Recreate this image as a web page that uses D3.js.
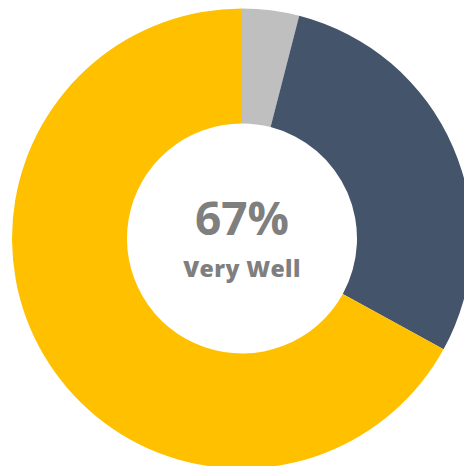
<!DOCTYPE html>
<html>
<head>
<meta charset="utf-8">
<script src="https://cdn.jsdelivr.net/npm/d3@7"></script>
<style>
  html, body { margin: 0; padding: 0; background: #fff; overflow: hidden; }
</style>
</head>
<body>
<svg id="chart" width="464" height="466"></svg>
<script>
// slices clockwise from 12 o'clock
var labels = ["Other", "Well", "Very Well"];
var values = [4, 29, 67];
var colors = ["#BFBFBF", "#44546A", "#FFC000"];

var svg = d3.select("#chart");
var cx = 242, cy = 238.5, outerR = 230, innerR = 115;

var g = svg.append("g").attr("transform", "translate(" + cx + "," + cy + ")");

var pie = d3.pie().sort(null).value(function(d) { return d; });
var arc = d3.arc().innerRadius(innerR).outerRadius(outerR);
var color = d3.scaleOrdinal().domain(labels).range(colors);

g.selectAll(".slice").data(pie(values)).enter().append("path")
    .attr("class", "slice")
    .attr("d", arc)
    .attr("fill", function(d, i) { return color(labels[i]); });

// centre label for the largest slice
var bigIdx = values.indexOf(d3.max(values));
var total = d3.sum(values);

g.append("text")
    .attr("x", 0).attr("y", -3.5)
    .attr("text-anchor", "middle")
    .style("font-family", "'Open Sans', sans-serif")
    .style("font-weight", "bold")
    .style("font-size", "46px")
    .style("fill", "#7F7F7F")
    .text(Math.round(values[bigIdx] / total * 100) + "%");

g.append("text")
    .attr("x", 0).attr("y", 38.5)
    .attr("text-anchor", "middle")
    .style("font-family", "'Open Sans', sans-serif")
    .style("font-weight", "800")
    .style("font-size", "23px")
    .style("letter-spacing", "0.4px")
    .style("fill", "#7F7F7F")
    .text(labels[bigIdx]);
</script>
</body>
</html>
